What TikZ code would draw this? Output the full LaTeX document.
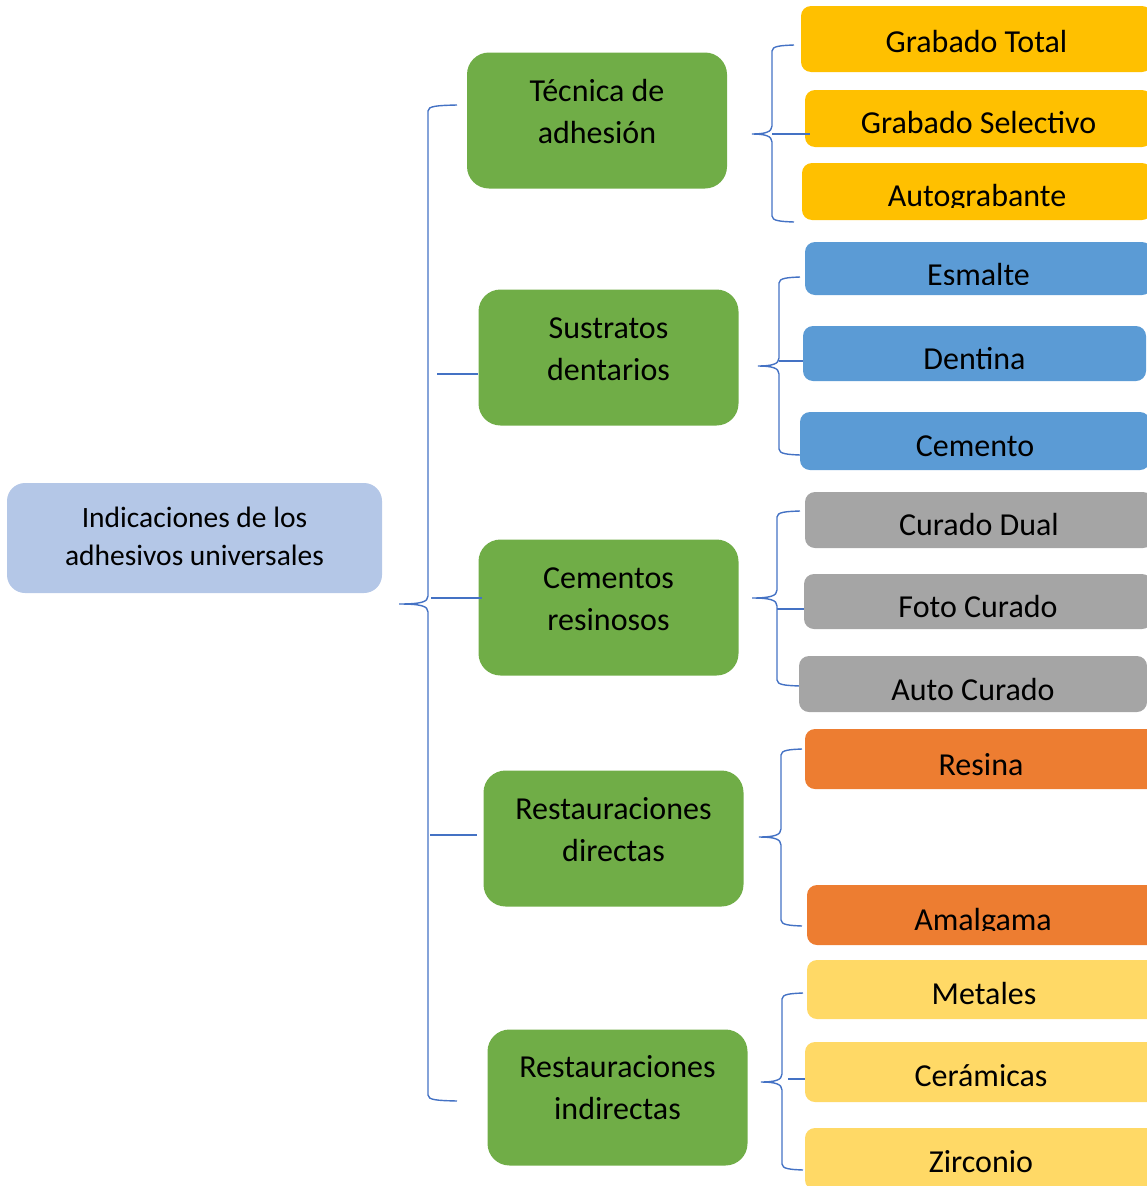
\documentclass[tikz,border=0pt]{standalone}
\usepackage{fontspec}
\setmainfont{Carlito}
\definecolor{cRoot}{HTML}{B4C7E7}
\definecolor{cGreen}{HTML}{70AD47}
\definecolor{cAmber}{HTML}{FFC000}
\definecolor{cBlue}{HTML}{5B9BD5}
\definecolor{cGray}{HTML}{A5A5A5}
\definecolor{cOrange}{HTML}{ED7D31}
\definecolor{cGold}{HTML}{FFD966}
\definecolor{cLine}{HTML}{4472C4}

% curly brace: #1 spine x, #2 tip x, #3 end x, #4 top y, #5 tip y, #6 bottom y
\newcommand\curlybrace[6]{%
  \draw[braceline] (#3,#4) .. controls ({#1+9},{#4+0.5}) and (#1,{#4+1}) .. (#1,{#4+6})
    -- (#1,{#5-8}) .. controls (#1,{#5-2}) and ({#1-7},{#5}) .. (#2,#5)
    .. controls ({#1-7},{#5}) and (#1,{#5+2}) .. (#1,{#5+8})
    -- (#1,{#6-6}) .. controls (#1,{#6-1}) and ({#1+9},{#6-0.5}) .. (#3,#6);}

\tikzset{
  braceline/.style={draw=cLine, line width=1.4pt},
  rootbox/.style={rectangle, rounded corners=18pt, fill=cRoot, draw=none, inner sep=0pt},
  catbox/.style={rectangle, rounded corners=22pt, fill=cGreen, draw=none, inner sep=0pt,
    minimum width=260pt, minimum height=136pt},
  leafbox/.style={rectangle, rounded corners=10pt, draw=none, inner sep=0pt},
  bigtext/.style={inner sep=0pt, font=\fontsize{32}{42}\selectfont, align=center},
  roottext/.style={inner sep=0pt, font=\fontsize{29.5}{38}\selectfont, align=center},
  leaftext/.style={inner sep=0pt, anchor=base, font=\fontsize{32}{42}\selectfont},
}

\begin{document}
\begin{tikzpicture}[x=1pt, y=-1pt]
\useasboundingbox (0,0) rectangle (1147,1186);
\clip (0,0) rectangle (1147,1186);

% root
\node[rootbox, minimum width=375pt, minimum height=110pt] (root) at (194.5,538) {};
\node[roottext] (rootT) at (194.5,538.4) {\strut Indicaciones de los\\\strut adhesivos universales};

% categories
\node[catbox] (g1) at (597,120.5) {};
\node[catbox] (g2) at (608.5,357.5) {};
\node[catbox] (g3) at (608.5,607.5) {};
\node[catbox] (g4) at (613.5,838.5) {};
\node[catbox] (g5) at (617.5,1097.5) {};
\node[bigtext] (g1T) at (597,113.6) {\strut Técnica de\\\strut adhesión};
\node[bigtext] (g2T) at (608.5,350.6) {\strut Sustratos\\\strut dentarios};
\node[bigtext] (g3T) at (608.5,600.6) {\strut Cementos\\\strut resinosos};
\node[bigtext] (g4T) at (613.5,831.6) {\strut Restauraciones\\\strut directas};
\node[bigtext] (g5T) at (617.5,1089.6) {\strut Restauraciones\\\strut indirectas};

% main brace and its branches
\curlybrace{428}{399}{457}{105}{604}{1101}
\coordinate (s2) at (437,374);
\coordinate (s3) at (431,598);
\coordinate (s4) at (430,835);
\draw[braceline] (s2) -- (s2 -| g2.west);
\draw[braceline] (s3) -- ([xshift=4pt]s3 -| g3.west);
\draw[braceline] (s4) -- ([xshift=-6pt]s4 -| g4.west);

% group braces (drawn before the boxes that cover their ends)
\curlybrace{772}{752}{794}{45}{134}{222}
\curlybrace{779}{758}{800}{277}{366}{455}
\curlybrace{777}{752}{800}{511}{598}{686}
\curlybrace{781}{759}{802}{749}{837}{926}
\curlybrace{782}{761}{803}{993}{1082}{1170}

% leaves
\node[leafbox, fill=cAmber, minimum width=351pt, minimum height=66pt] (y1) at (976.5,39) {};
\node[leafbox, fill=cAmber, minimum width=347pt, minimum height=57pt] (y2) at (978.5,118.5) {};
\node[leafbox, fill=cAmber, minimum width=350pt, minimum height=57pt] (y3) at (977,191.5) {};
\node[leafbox, fill=cBlue, minimum width=347pt, minimum height=53pt] (b1) at (978.5,268.5) {};
\node[leafbox, fill=cBlue, minimum width=343pt, minimum height=55pt] (b2) at (974.5,353.5) {};
\node[leafbox, fill=cBlue, minimum width=350pt, minimum height=58pt] (b3) at (975,441) {};
\node[leafbox, fill=cGray, minimum width=348pt, minimum height=56pt] (c1) at (979,520) {};
\node[leafbox, fill=cGray, minimum width=348pt, minimum height=55pt] (c2) at (978,601.5) {};
\node[leafbox, fill=cGray, minimum width=348pt, minimum height=56pt] (c3) at (973,684) {};
\node[leafbox, fill=cOrange, minimum width=352pt, minimum height=60pt] (o1) at (981,759) {};
\node[leafbox, fill=cOrange, minimum width=352pt, minimum height=60pt] (o2) at (983,915) {};
\node[leafbox, fill=cGold, minimum width=354pt, minimum height=59pt] (l1) at (984,989.5) {};
\node[leafbox, fill=cGold, minimum width=352pt, minimum height=60pt] (l2) at (981,1072) {};
\node[leafbox, fill=cGold, minimum width=352pt, minimum height=62pt] (l3) at (981,1159) {};

% middle branches of the group braces
\coordinate (m1) at (772,134);
\coordinate (m2) at (779,361);
\coordinate (m3) at (777,609);
\coordinate (m5) at (788,1079);
\draw[braceline] (m1) -- ([xshift=5pt]m1 -| y2.west);
\draw[braceline] (m2) -- (m2 -| b2.west);
\draw[braceline] (m3) -- (m3 -| c2.west);
\draw[braceline] (m5) -- (m5 -| l2.west);

% leaf labels
\node[leaftext] (y1T) at (y1 |- 0,52) {Grabado Total};
\node[leaftext] (y2T) at (y2 |- 0,133) {Grabado Selectivo};
\begin{scope}
  \clip (y3.north west) rectangle (y3.east |- 0,207);
  \node[leaftext] (y3T) at (y3 |- 0,206.5) {Autograbante};
\end{scope}
\begin{scope}
  \clip (b1.north west) rectangle (b1.east |- 0,284);
  \node[leaftext] (b1T) at (b1 |- 0,285) {Esmalte};
\end{scope}
\node[leaftext] (b2T) at (b2 |- 0,369) {Dentina};
\node[leaftext] (b3T) at (b3 |- 0,456) {Cemento};
\node[leaftext] (c1T) at (c1 |- 0,535) {Curado Dual};
\node[leaftext] (c2T) at (c2 |- 0,617) {Foto Curado};
\node[leaftext] (c3T) at (c3 |- 0,700) {Auto Curado};
\node[leaftext] (o1T) at (o1 |- 0,775) {Resina};
\begin{scope}
  \clip (o2.north west) rectangle (o2.east |- 0,930);
  \node[leaftext] (o2T) at (o2 |- 0,930) {Amalgama};
\end{scope}
\node[leaftext] (l1T) at (l1 |- 0,1004) {Metales};
\node[leaftext] (l2T) at (l2 |- 0,1086) {Cerámicas};
\node[leaftext] (l3T) at (l3 |- 0,1172) {Zirconio};
\end{tikzpicture}
\end{document}
